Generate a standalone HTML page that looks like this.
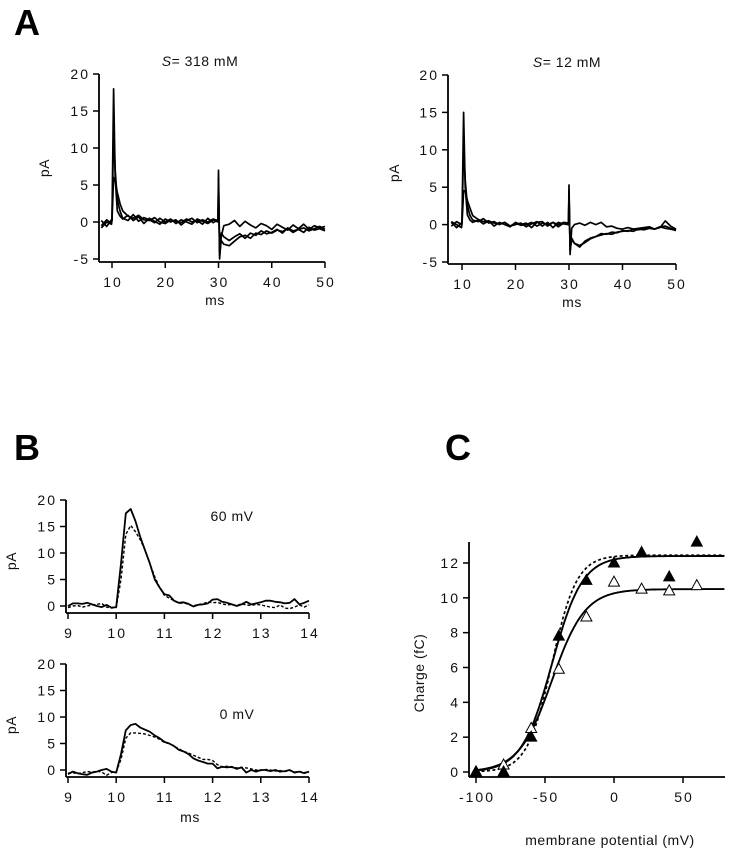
<!DOCTYPE html>
<html><head><meta charset="utf-8">
<style>
html,body{margin:0;padding:0;background:#fff;}
svg{display:block;font-family:"Liberation Sans",Arial,sans-serif;}
.tk{font-size:14px;letter-spacing:2px;fill:#111;}
.lb{font-size:14px;fill:#111;letter-spacing:0.5px;}
.pl{font-size:36px;font-weight:bold;fill:#000;}
</style></head>
<body>
<svg id="fig" width="730" height="853" viewBox="0 0 730 853" xmlns="http://www.w3.org/2000/svg">
<text class="pl" x="14" y="35">A</text>
<text class="pl" x="14" y="460">B</text>
<text class="pl" x="445" y="460">C</text>
</svg>
<script>
// ---------- Panel A data ----------
const tA = [8,9,9.9,10,10.3,10.6,11,11.5,12,13,14,15,16,17,18,19,20,21,22,23,24,25,26,27,28,29,29.9,30,30.2,30.5,31,32,33,34,35,36,37,38,39,40,41,42,43,44,45,46,47,48,49,50];
const aLeft1 = [-0.5,0.3,-0.2,0.5,18,6,1.5,0.8,0.4,0.9,0.2,0.7,-0.2,0.5,0.1,-0.3,0.4,0,0.3,-0.4,0.2,0.5,-0.1,0.3,0,0.4,0.2,7,-5,-2,-0.5,-0.3,0.2,-0.6,0.1,-0.4,-0.8,-0.2,-0.5,-1,-0.3,-0.7,-1.1,-0.4,-0.9,-0.3,-1,-0.5,-0.8,-0.6];
const aLeft2 = [0.2,-0.6,0.3,0.2,12,7,3,1.5,0.5,0.2,1,0.1,0.6,0.3,-0.1,0.5,0,0.4,-0.2,0.3,0,-0.3,0.4,0.1,-0.2,0.3,0,6,-4,-1.5,-2,-2.5,-2,-1.6,-2.2,-1.5,-1.8,-1.2,-1.6,-1.4,-1,-1.5,-0.8,-1.2,-1,-1.4,-0.7,-1.1,-0.9,-1.2];
const aLeft3 = [-0.8,0,-0.3,0.3,6,5.5,4,2.5,1.5,0.8,0.5,0.9,0.3,0.2,0.6,0,-0.2,0.3,0.1,-0.1,0.4,0,0.2,-0.3,0.5,-0.1,0.3,5,-4.5,-2.5,-3,-3.2,-2.6,-2,-1.8,-2.2,-1.5,-1.7,-1.2,-1.5,-1.1,-1.3,-0.9,-1.4,-1,-0.8,-1.2,-0.9,-0.6,-1];
const aRight1 = [0.3,-0.4,0.2,0.4,15,5,1.3,0.6,0.3,0.6,0.1,0.5,-0.2,0.3,0,-0.3,0.3,0,0.2,-0.4,0.3,0.4,-0.2,0.3,0,0.3,0.2,5.3,-4,-0.5,0,0.2,-0.1,0.3,0,0.3,-0.3,-0.2,-0.5,-0.6,-0.4,-0.6,-0.5,-0.4,-0.3,-0.6,-0.4,0.5,-0.2,-0.6];
const aRight2 = [-0.2,0.4,0,0.2,10.5,6,2.5,1.2,0.6,0.4,0.8,0.2,0.4,0,0.3,-0.2,0,0.2,-0.3,0.1,0.4,-0.2,0.3,-0.4,0.3,0.1,0,4.5,-3.5,-2,-2.5,-3,-2.2,-1.8,-1.6,-1.4,-1.2,-1.3,-1,-0.9,-0.8,-0.9,-0.6,-0.7,-0.5,-0.6,-0.3,-0.5,-0.6,-0.8];
const aRight3 = [0.4,0,-0.4,0.1,4.5,4.5,3.2,2.2,1.2,0.7,0.4,0.5,0.2,0.1,0.3,-0.2,0.2,-0.1,0,0.3,-0.2,0.2,0,0.3,-0.3,0.2,0,4,-3,-1.8,-2.5,-2.8,-2.4,-1.9,-1.6,-1.2,-1.3,-1,-1.1,-0.8,-0.9,-0.6,-0.7,-0.5,-0.4,-0.6,-0.3,-0.2,-0.5,-0.7];
const aXTicks = [10,20,30,40,50];
const aYTicks = [-5,0,5,10,15,20];
// ---------- Panel B data ----------
const tB = Array.from({length:51},(_,i)=>+(9+i*0.1).toFixed(1));
const b60Solid = [0,0.5,0.5,0.4,0.6,0.3,0,-0.2,0.2,-0.3,-0.2,8,17.5,18.3,16,13,10.5,8,5,3.5,2.2,2,1,0.6,0.7,0.4,-0.1,0.2,0.3,0.5,1.2,1.3,0.8,0.6,0.3,0,0.3,0.8,0.3,0.5,0.7,1,1,0.8,0.7,0.5,0.6,1.3,0.3,0.6,1];
const b60Dash = [-0.3,0,0.1,-0.2,0,0.2,0.3,0.5,-0.2,-0.4,-0.3,5,13.5,15.2,14,12.5,10.5,8,5.5,3.5,2,1.5,1,0.5,0.6,0.3,0,0.3,0.4,0.8,0.6,0.7,0.4,0.2,0.3,0.1,0.4,0.2,0.1,0.3,0.2,0,-0.2,-0.3,0.2,-0.4,-0.5,-0.2,0.2,-0.2,0.2];
const b0Solid = [-0.8,-0.3,-0.6,-0.8,-0.9,-0.5,-0.3,0,0.2,-0.3,-0.5,3,7.5,8.5,8.7,8,7.6,7.2,6.5,6,5.3,5,4.5,3.8,3.5,3,2.2,1.8,1.5,1.2,1.2,0.3,0.6,0.5,0.6,0.2,0.5,-0.5,0,-0.3,0,0,-0.2,0,-0.3,-0.2,0,-0.5,-0.3,-0.6,-0.3];
const b0Dash = [-0.6,-0.5,-0.7,-0.5,-0.3,-0.4,-0.2,-0.4,-1,-0.5,-0.3,2,6,7,7,6.9,6.8,6.5,6.2,5.8,5.2,5,4.5,4,3.5,3.2,2.8,2.4,2,2,1.8,1,0.6,0.7,0.5,0.4,0.5,0.4,0.2,0,-0.1,0.1,0,-0.2,-0.1,-0.3,-0.1,-0.4,-0.3,-0.5,-0.4];
const bXTicks = [9,10,11,12,13,14];
const bYTicks = [0,5,10,15,20];
// ---------- Panel C data ----------
const cVolt = [-100,-80,-60,-40,-20,0,20,40,60];
const cFilled = [0,0,2,7.8,11,12,12.6,11.2,13.2];
const cOpen = [0,0.4,2.5,5.9,8.9,10.9,10.5,10.4,10.7];
const fitFilled = [12.4,-45,11];   // Qmax, Vhalf, slope
const fitDashed = [12.45,-45,9];
const fitOpen = [10.5,-45,12];
const cXTicks = [-100,-50,0,50];
const cYTicks = [0,2,4,6,8,10,12];

const NS="http://www.w3.org/2000/svg";
const svg=document.getElementById('fig');
function mk(tag,attrs,parent){const e=document.createElementNS(NS,tag);for(const k in attrs)e.setAttribute(k,attrs[k]);(parent||svg).appendChild(e);return e;}
function lin(d0,d1,r0,r1){return v=>r0+(v-d0)*(r1-r0)/(d1-d0);}

function axes(g,x,y,xr,yr,xTicks,yTicks,axY,axX,name){
  const xl=mk('line',{x1:axX,y1:axY,x2:xr[1],y2:axY,stroke:'#000','stroke-width':1.8},g);
  
  
  const yl=mk('line',{x1:axX,y1:yr[0],x2:axX,y2:axY,stroke:'#000','stroke-width':1.8},g);
  
  
  xTicks.forEach(t=>{const px=x(t);
    mk('line',{x1:px,y1:axY,x2:px,y2:axY+6,stroke:'#000','stroke-width':1.5},g);
    const tx=mk('text',{x:px+1,y:axY+25,'text-anchor':'middle',class:'tk'},g);tx.textContent=t;
    
    });
  yTicks.forEach(t=>{const py=y(t);
    mk('line',{x1:axX-6,y1:py,x2:axX,y2:py,stroke:'#000','stroke-width':1.5},g);
    const tx=mk('text',{x:axX-9,y:py+5,'text-anchor':'end',class:'tk'},g);tx.textContent=t;
    
    });
}
function trace(g,xs,ys,x,y,name,dash,w){
  const p=mk('polyline',{points:xs.map((t,i)=>x(t).toFixed(1)+','+y(ys[i]).toFixed(1)).join(' '),fill:'none',stroke:'#000','stroke-width':w||1.3,'stroke-linejoin':'round'},g);
  if(dash)p.setAttribute('stroke-dasharray',dash);
  
  
}
function label(g,txt,x,y,name,rot,cls){
  const t=mk('text',{x:x,y:y,'text-anchor':'middle',class:cls||'lb'},g);
  if(rot)t.setAttribute('transform','rotate(-90 '+x+' '+y+')');
  t.textContent=txt;
  
  
  return t;
}

// Panel A
function panelA(off,title,tr,name){
  const g=mk('g',{});
  
  
  const xx=lin(10,50,off?462:112,off?676:325);
  const y=lin(-5,20,off?262:259,off?75:74);
  axes(g,xx,y,[0,off?676:325],[off?75:74],aXTicks,aYTicks,off?264:262,off?448:99,name);
  tr.forEach((s,i)=>trace(g,tA,s,xx,y,name+'-trace-'+(i+1),null,1.7));
  const t=mk('text',{x:off?567:200,y:off?67:66,'text-anchor':'middle',class:'lb'},g);
  
  
  const s=mk('tspan',{'font-style':'italic'},t);s.textContent='S';
  const s2=mk('tspan',{},t);s2.textContent=title;
  label(g,'pA',off?399:49,off?173:168,name+'-y-axis-title',true);
  label(g,'ms',off?572:215,off?307:305,name+'-x-axis-title');
}
panelA(0,'= 318 mM',[aLeft1,aLeft2,aLeft3],'panel-a-left');
panelA(1,'= 12 mM',[aRight1,aRight2,aRight3],'panel-a-right');

// Panel B
function panelB(y20,y0,axY,solid,dash,txt,tx,ty,name,ms){
  const g=mk('g',{});
  
  
  const x=lin(9,14,68,309);
  const y=lin(0,20,y0,y20);
  axes(g,x,y,[0,309],[y20],bXTicks,bYTicks,axY,66,name);
  trace(g,tB,solid,x,y,name+'-solid-trace',null,1.8);
  trace(g,tB,dash,x,y,name+'-dashed-trace','3,2',1.4);
  label(g,txt,tx,ty,name+'-voltage-label');
  label(g,'pA',16,(y20+y0)/2+8,name+'-y-axis-title',true);
  if(ms)label(g,'ms',190,822,'panel-b-x-axis-title');
}
panelB(500,606,613,b60Solid,b60Dash,'60  mV',232,521,'panel-b-60mv',false);
panelB(664,770,777,b0Solid,b0Dash,'0  mV',237,719,'panel-b-0mv',true);

// Panel C
(function(){
  const g=mk('g',{});
  
  
  const x=lin(-100,50,476,683);
  const y=lin(0,12,772,563);
  axes(g,x,y,[0,725],[542],cXTicks,cYTicks,777,469,'panel-c');
  const vs=[];for(let v=-100;v<=80;v+=1)vs.push(v);
  const boltz=p=>vs.map(v=>p[0]/(1+Math.exp(-(v-p[1])/p[2])));
  trace(g,vs,boltz(fitFilled),x,y,'fit-filled-solid',null,1.9);
  trace(g,vs,boltz(fitDashed),x,y,'fit-dashed','3,2.5',1.7);
  trace(g,vs,boltz(fitOpen),x,y,'fit-open-solid',null,1.9);
  function tri(v,q,fill,name){
    const px=x(v),py=y(q);
    const p=mk('polygon',{points:`${px},${py-6} ${px-5.5},${py+4} ${px+5.5},${py+4}`,fill:fill?'#000':'#fff',stroke:'#000','stroke-width':1},g);
    
    
  }
  cVolt.forEach((v,i)=>tri(v,cOpen[i],false,'open-triangle-point'));
  cVolt.forEach((v,i)=>tri(v,cFilled[i],true,'filled-triangle-point'));
  label(g,'Charge (fC)',424,673,'panel-c-y-axis-title',true);
  label(g,'membrane  potential  (mV)',610,845,'panel-c-x-axis-title');
})();
</script>
</body></html>
